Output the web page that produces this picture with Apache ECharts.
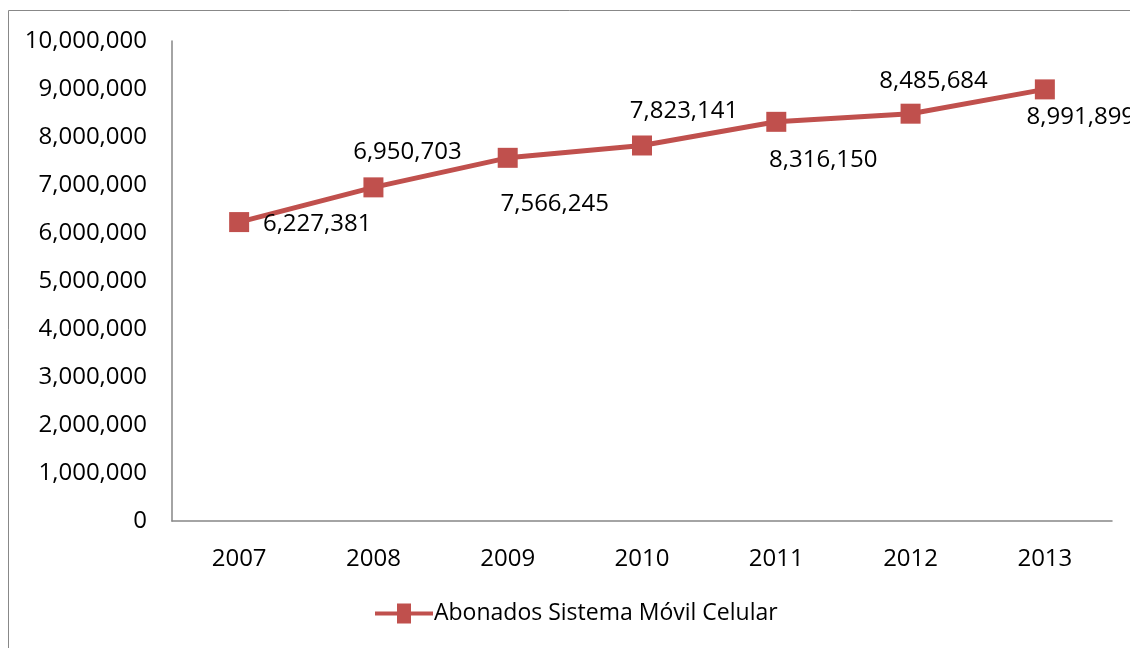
<!DOCTYPE html>
<html><head><meta charset="utf-8">
<script src="https://cdn.jsdelivr.net/npm/echarts@6/dist/echarts.min.js"></script>
<style>html,body{margin:0;padding:0;background:#fff}#c{width:1130px;height:648px}</style>
</head><body><div id="c"></div>
<script>
var categories = ['2007','2008','2009','2010','2011','2012','2013'];
var values = [6227381, 6950703, 7566245, 7823141, 8316150, 8485684, 8991899];
var seriesName = 'Abonados Sistema Móvil Celular';
var labelOffsets = [[78,2],[34,-35],[47,46],[42,-34],[47,38],[23,-33],[36,28]];

var FONT = 'Open Sans';
var chart = echarts.init(document.getElementById('c'));
chart.setOption({
  animation: false,
  textStyle: {fontFamily: FONT},
  graphic: [{type:'rect', shape:{x:8.5,y:10.5,width:1300,height:800}, style:{fill:'none', stroke:'#888', lineWidth:1}, silent:true}],
  grid: {left:172, right:18, top:41, bottom:127, containLabel:false},
  legend: {bottom:18, left:370, itemWidth:58, itemHeight:20, itemGap:10,
    icon: 'path://M0,8 L22,8 L22,0 L36,0 L36,8 L58,8 L58,12 L36,12 L36,20 L22,20 L22,12 L0,12 Z',
    textStyle:{fontFamily:FONT, fontSize:23, color:'#000', padding:[0,0,0,-4]}, data:[seriesName]},
  xAxis: {type:'category', data:categories, boundaryGap:true,
    axisLine:{lineStyle:{color:'#868686', width:1.5}}, axisTick:{show:false},
    axisLabel:{color:'#000', fontSize:24, fontFamily:FONT, margin:26}},
  yAxis: {type:'value', min:0, max:10000000, interval:1000000,
    axisLine:{show:true, lineStyle:{color:'#868686', width:1.5}}, axisTick:{show:false},
    splitLine:{show:false},
    axisLabel:{color:'#000', fontSize:24, fontFamily:FONT, margin:25,
      formatter:function(v){return v.toLocaleString('en-US');}}},
  series: [{name:seriesName, type:'line', data: values.map(function(v,i){
      return {value:v, label:{offset:labelOffsets[i]}};
    }),
    symbol:'rect', symbolSize:20, itemStyle:{color:'#c0504d'},
    lineStyle:{color:'#c0504d', width:5},
    label:{show:true, position:'inside', color:'#000', fontSize:24, fontFamily:FONT,
      formatter:function(p){return p.value.toLocaleString('en-US');}}}]
});
</script></body></html>
